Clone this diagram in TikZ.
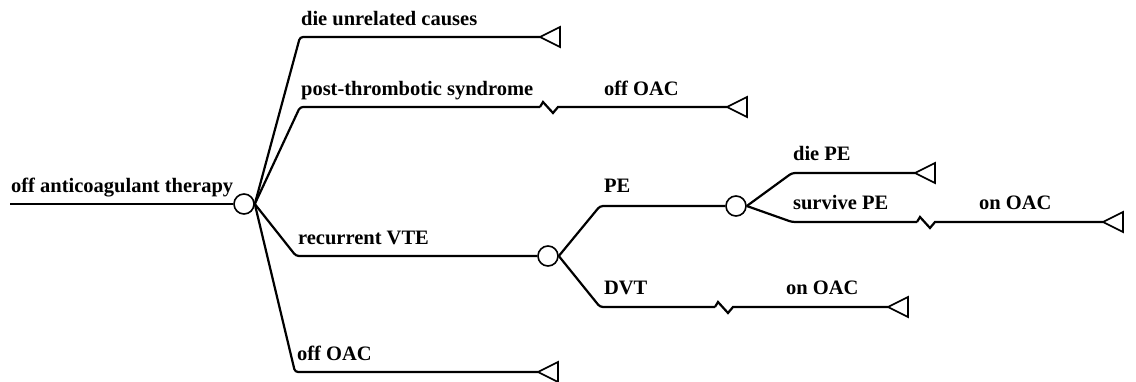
\documentclass[tikz,border=0pt]{standalone}
\usepackage{fontspec}
\setmainfont{Liberation Serif}
\begin{document}
\begin{tikzpicture}[x=1pt,y=-1pt,line width=2.2pt,
  chance/.style={draw,circle,minimum size=20pt,inner sep=0pt,fill=white,line width=1.6pt},
  lbl/.style={anchor=base west,inner sep=0pt,font=\fontsize{20.5}{22}\selectfont\bfseries},
  branch/.style={rounded corners=3pt},
  term/.style={line width=1.6pt,line join=miter}]
\useasboundingbox (0,0) rectangle (1136,381);
% chance nodes
\node[chance] (c0) at (244,204) {};
\node[chance] (c1) at (548,256) {};
\node[chance] (c2) at (736,206) {};
% coordinates
\coordinate (s0) at (10,204);
\coordinate (k1) at (300,37);
\coordinate (k2) at (300,107);
\coordinate (k3) at (296,256);
\coordinate (k4) at (295,372);
\coordinate (k5) at (600,206);
\coordinate (k6) at (600,307);
\coordinate (k7) at (792,173);
\coordinate (k8) at (792,222);
\coordinate (z1) at (540,107);
\coordinate (z2) at (917,222);
\coordinate (z3) at (715,307);
\coordinate (t1) at (540,37);
\coordinate (t2) at (727,107);
\coordinate (t3) at (915,173);
\coordinate (t4) at (1103,222);
\coordinate (t5) at (888,307);
\coordinate (t6) at (538,372);
% connectors
\draw (s0) -- (c0.west);
\draw[branch] (c0.east) -- (k1) -- (t1);
\draw[branch] (c0.east) -- (k2) -- (z1);
\draw (z1) -- ++(3,-5) -- ++(10,11) -- ++(5,-6) -- (t2);
\draw[branch] (c0.east) -- (k3) -- (c1.west);
\draw[branch] (c0.east) -- (k4) -- (t6);
\draw[branch] (c1.east) -- (k5) -- (c2.west);
\draw[branch] (c1.east) -- (k6) -- (z3);
\draw (z3) -- ++(3,-5) -- ++(10,11) -- ++(5,-6) -- (t5);
\draw[branch] (c2.east) -- (k7) -- (t3);
\draw[branch] (c2.east) -- (k8) -- (z2);
\draw (z2) -- ++(3,-5) -- ++(10,11) -- ++(5,-6) -- (t4);
% terminals
\foreach \t in {t1,t2,t3,t4,t5,t6}
  \draw[term] (\t) -- ++(20,-10) -- ++(0,20) -- cycle;
% labels
\node[lbl] (l0) at (10,192) {off anticoagulant therapy};
\node[lbl] (l1) at (300,25) {die unrelated causes};
\node[lbl] (l2) at (300,95) {post-thrombotic syndrome};
\node[lbl] (l3) at (603,95) {off OAC};
\node[lbl] (l4) at (297,244) {recurrent VTE};
\node[lbl] (l5) at (296,360) {off OAC};
\node[lbl] (l6) at (603,192) {PE};
\node[lbl] (l7) at (603,294) {DVT};
\node[lbl] (l8) at (785,294) {on OAC};
\node[lbl] (l9) at (792,160) {die PE};
\node[lbl] (l10) at (792,209) {survive PE};
\node[lbl] (l11) at (978,209) {on OAC};
\end{tikzpicture}
\end{document}
